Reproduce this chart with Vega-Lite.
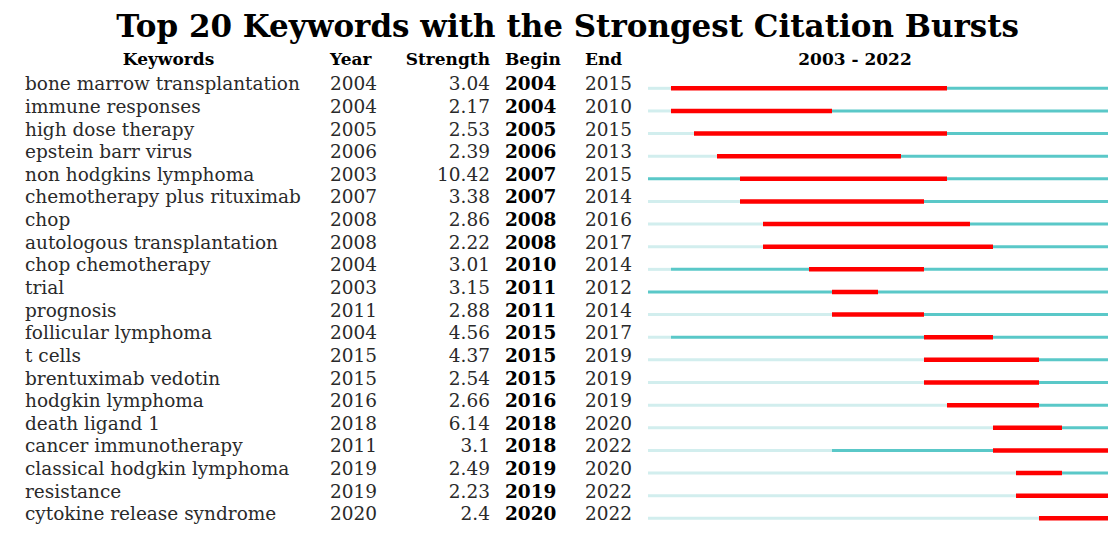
{
  "$schema": "https://vega.github.io/schema/vega-lite/v6.json",
  "background": "white",
  "padding": {"left": 25, "top": 12, "right": 14, "bottom": 10},
  "spacing": 0,
  "title": {
    "text": "Top 20 Keywords with the Strongest Citation Bursts",
    "font": "DejaVu Serif",
    "fontSize": 31,
    "fontWeight": "bold",
    "color": "#000000",
    "anchor": "middle",
    "offset": 7
  },
  "data": {
    "values": [
      {"Keywords": "bone marrow transplantation", "Year": 2004, "Strength": "3.04", "Begin": 2004, "End": 2015},
      {"Keywords": "immune responses", "Year": 2004, "Strength": "2.17", "Begin": 2004, "End": 2010},
      {"Keywords": "high dose therapy", "Year": 2005, "Strength": "2.53", "Begin": 2005, "End": 2015},
      {"Keywords": "epstein barr virus", "Year": 2006, "Strength": "2.39", "Begin": 2006, "End": 2013},
      {"Keywords": "non hodgkins lymphoma", "Year": 2003, "Strength": "10.42", "Begin": 2007, "End": 2015},
      {"Keywords": "chemotherapy plus rituximab", "Year": 2007, "Strength": "3.38", "Begin": 2007, "End": 2014},
      {"Keywords": "chop", "Year": 2008, "Strength": "2.86", "Begin": 2008, "End": 2016},
      {"Keywords": "autologous transplantation", "Year": 2008, "Strength": "2.22", "Begin": 2008, "End": 2017},
      {"Keywords": "chop chemotherapy", "Year": 2004, "Strength": "3.01", "Begin": 2010, "End": 2014},
      {"Keywords": "trial", "Year": 2003, "Strength": "3.15", "Begin": 2011, "End": 2012},
      {"Keywords": "prognosis", "Year": 2011, "Strength": "2.88", "Begin": 2011, "End": 2014},
      {"Keywords": "follicular lymphoma", "Year": 2004, "Strength": "4.56", "Begin": 2015, "End": 2017},
      {"Keywords": "t cells", "Year": 2015, "Strength": "4.37", "Begin": 2015, "End": 2019},
      {"Keywords": "brentuximab vedotin", "Year": 2015, "Strength": "2.54", "Begin": 2015, "End": 2019},
      {"Keywords": "hodgkin lymphoma", "Year": 2016, "Strength": "2.66", "Begin": 2016, "End": 2019},
      {"Keywords": "death ligand 1", "Year": 2018, "Strength": "6.14", "Begin": 2018, "End": 2020},
      {"Keywords": "cancer immunotherapy", "Year": 2011, "Strength": "3.1", "Begin": 2018, "End": 2022},
      {"Keywords": "classical hodgkin lymphoma", "Year": 2019, "Strength": "2.49", "Begin": 2019, "End": 2020},
      {"Keywords": "resistance", "Year": 2019, "Strength": "2.23", "Begin": 2019, "End": 2022},
      {"Keywords": "cytokine release syndrome", "Year": 2020, "Strength": "2.4", "Begin": 2020, "End": 2022}
    ]
  },
  "config": {
    "view": {"stroke": null},
    "title": {"font": "DejaVu Serif", "fontSize": 17, "fontWeight": "bold", "color": "#000000", "offset": 4},
    "text": {"font": "DejaVu Serif", "fontSize": 18.5, "color": "#2a2a2a", "baseline": "middle"}
  },
  "hconcat": [
    {
      "width": 305,
      "height": 452.6,
      "title": {"text": "Keywords", "anchor": "middle", "dx": -9},
      "mark": {"type": "text", "align": "left"},
      "encoding": {
        "y": {"field": "Keywords", "type": "nominal", "sort": null, "axis": null, "scale": {"paddingInner": 0, "paddingOuter": 0}},
        "x": {"value": 0},
        "text": {"field": "Keywords", "type": "nominal"}
      }
    },
    {
      "width": 67,
      "height": 452.6,
      "title": {"text": "Year", "anchor": "start"},
      "mark": {"type": "text", "align": "left"},
      "encoding": {
        "y": {"field": "Keywords", "type": "nominal", "sort": null, "axis": null, "scale": {"paddingInner": 0, "paddingOuter": 0}},
        "x": {"value": 0},
        "text": {"field": "Year", "type": "nominal"}
      }
    },
    {
      "width": 108,
      "height": 452.6,
      "title": {"text": "Strength", "anchor": "end", "dx": -15},
      "mark": {"type": "text", "align": "right"},
      "encoding": {
        "y": {"field": "Keywords", "type": "nominal", "sort": null, "axis": null, "scale": {"paddingInner": 0, "paddingOuter": 0}},
        "x": {"value": 93},
        "text": {"field": "Strength", "type": "nominal"}
      }
    },
    {
      "width": 80,
      "height": 452.6,
      "title": {"text": "Begin", "anchor": "start"},
      "mark": {"type": "text", "align": "left", "fontWeight": "bold", "color": "#000000"},
      "encoding": {
        "y": {"field": "Keywords", "type": "nominal", "sort": null, "axis": null, "scale": {"paddingInner": 0, "paddingOuter": 0}},
        "x": {"value": 0},
        "text": {"field": "Begin", "type": "nominal"}
      }
    },
    {
      "width": 61,
      "height": 452.6,
      "title": {"text": "End", "anchor": "start"},
      "mark": {"type": "text", "align": "left"},
      "encoding": {
        "y": {"field": "Keywords", "type": "nominal", "sort": null, "axis": null, "scale": {"paddingInner": 0, "paddingOuter": 0}},
        "x": {"value": 0},
        "text": {"field": "End", "type": "nominal"}
      }
    },
    {
      "width": 460,
      "height": 452.6,
      "title": {"text": "2003 - 2022", "anchor": "middle", "dx": -23},
      "transform": [{"calculate": "datum.End + 1", "as": "EndEdge"}],
      "encoding": {
        "y": {"field": "Keywords", "type": "nominal", "sort": null, "axis": null, "scale": {"paddingInner": 0, "paddingOuter": 0}}
      },
      "layer": [
        {
          "mark": {"type": "rule", "color": "#d2eeee", "strokeWidth": 3, "yOffset": 4},
          "encoding": {
            "x": {"field": "Year", "type": "quantitative", "scale": {"domain": [2003, 2023], "nice": false, "zero": false}, "axis": null},
            "x2": {"datum": 2003}
          }
        },
        {
          "mark": {"type": "rule", "color": "#5ac8c8", "strokeWidth": 3, "yOffset": 4},
          "encoding": {
            "x": {"field": "Year", "type": "quantitative", "scale": {"domain": [2003, 2023], "nice": false, "zero": false}, "axis": null},
            "x2": {"datum": 2023}
          }
        },
        {
          "mark": {"type": "rule", "color": "#ff0000", "strokeWidth": 4.5, "yOffset": 4},
          "encoding": {
            "x": {"field": "Begin", "type": "quantitative", "scale": {"domain": [2003, 2023], "nice": false, "zero": false}, "axis": null},
            "x2": {"field": "EndEdge"}
          }
        }
      ]
    }
  ]
}
